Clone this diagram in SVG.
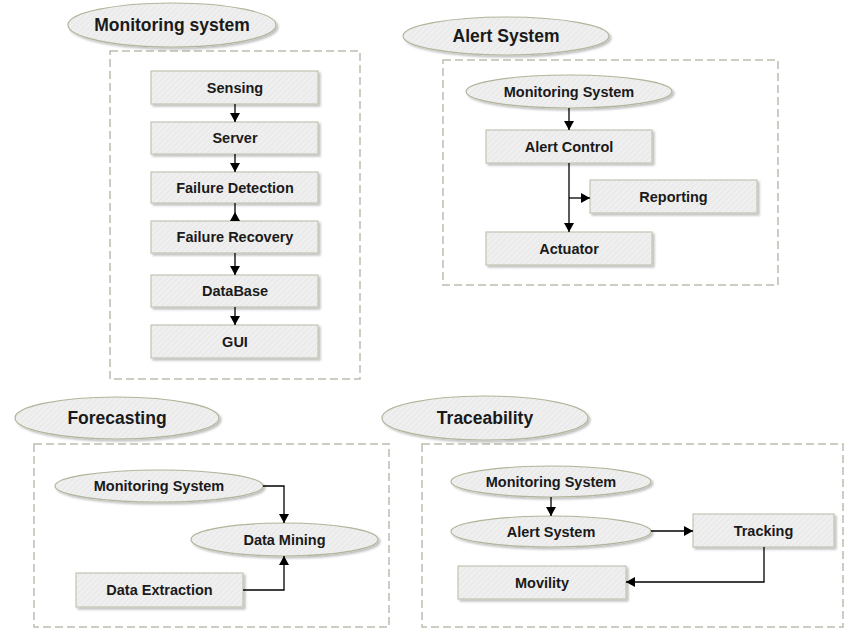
<svg xmlns="http://www.w3.org/2000/svg" width="846" height="630" viewBox="0 0 846 630">
<defs>
<pattern id="hatch" width="4" height="4" patternUnits="userSpaceOnUse" patternTransform="rotate(45)">
<rect width="4" height="4" fill="#ebebeb"/>
<line x1="0" y1="0" x2="0" y2="4" stroke="#f6f6f6" stroke-width="1.5"/>
</pattern>
<filter id="sh" x="-10%" y="-20%" width="130%" height="160%">
<feDropShadow dx="2" dy="2" stdDeviation="1.2" flood-color="#000" flood-opacity="0.25"/>
</filter>
<marker id="arr" markerUnits="userSpaceOnUse" markerWidth="12" markerHeight="12" orient="auto" overflow="visible">
<path d="M-9,-5 L0,0 L-9,5 z" fill="#000"/>
</marker>
<marker id="arrRev" markerUnits="userSpaceOnUse" markerWidth="12" markerHeight="12" orient="auto" overflow="visible">
<path d="M0,-5 L0,5 L-9,0 z" fill="#000"/>
</marker>
</defs>
<style>
.box{fill:url(#hatch);stroke:#c4c4b4;stroke-width:1.2;filter:url(#sh)}
.ell{fill:url(#hatch);stroke:#b4b49c;stroke-width:1.2;filter:url(#sh)}
.frame{fill:none;stroke:#bdbdb0;stroke-width:1.5;stroke-dasharray:8 4}
.t{font-family:"Liberation Sans",Arial,sans-serif;font-weight:bold;font-size:14.5px;fill:#1a1a1a;text-anchor:middle}
.h{font-family:"Liberation Sans",Arial,sans-serif;font-weight:bold;font-size:17.5px;fill:#1a1a1a;text-anchor:middle}
.c{fill:none;stroke:#000;stroke-width:1.3}
.ca{fill:none;stroke:#000;stroke-width:1.3;marker-end:url(#arr)}
</style>

<!-- Frames -->
<g id="frames">
<rect class="frame" x="110" y="51" width="250" height="328"/>
<rect class="frame" x="443" y="60" width="335" height="225"/>
<rect class="frame" x="34" y="444" width="355" height="183"/>
<rect class="frame" x="422" y="444" width="421" height="183"/>
</g>

<!-- Titles -->
<g id="title-monitoring"><ellipse class="ell" cx="172" cy="25" rx="104" ry="22"/><text class="h" x="172" y="31">Monitoring system</text></g>
<g id="title-alert"><ellipse class="ell" cx="506" cy="36" rx="103" ry="19"/><text class="h" x="506" y="42">Alert System</text></g>
<g id="title-forecasting"><ellipse class="ell" cx="117" cy="418" rx="102" ry="21"/><text class="h" x="117" y="424">Forecasting</text></g>
<g id="title-traceability"><ellipse class="ell" cx="485" cy="418" rx="103" ry="22"/><text class="h" x="485" y="424">Traceability</text></g>

<!-- Monitoring system nodes -->
<g id="sensing"><rect class="box" x="151" y="71" width="167" height="33"/><text class="t" x="235" y="92.5">Sensing</text></g>
<g id="server"><rect class="box" x="151" y="122" width="167" height="32"/><text class="t" x="235" y="143">Server</text></g>
<g id="failure-detection"><rect class="box" x="151" y="172" width="167" height="31"/><text class="t" x="235" y="192.5">Failure Detection</text></g>
<g id="failure-recovery"><rect class="box" x="151" y="221" width="167" height="32"/><text class="t" x="235" y="242">Failure Recovery</text></g>
<g id="database"><rect class="box" x="151" y="275" width="167" height="32"/><text class="t" x="235" y="296">DataBase</text></g>
<g id="gui"><rect class="box" x="151" y="325" width="167" height="33"/><text class="t" x="235" y="346.5">GUI</text></g>

<!-- Alert system nodes -->
<g id="as-monitoring"><ellipse class="ell" cx="569" cy="91.5" rx="103" ry="16.5"/><text class="t" x="569" y="96.5">Monitoring System</text></g>
<g id="alert-control"><rect class="box" x="486" y="130" width="166" height="33"/><text class="t" x="569" y="151.5">Alert Control</text></g>
<g id="reporting"><rect class="box" x="590" y="180" width="167" height="33"/><text class="t" x="673.5" y="201.5">Reporting</text></g>
<g id="actuator"><rect class="box" x="486" y="232" width="166" height="33"/><text class="t" x="569" y="253.5">Actuator</text></g>

<!-- Forecasting nodes -->
<g id="fc-monitoring"><ellipse class="ell" cx="159" cy="486" rx="104" ry="16"/><text class="t" x="159" y="491">Monitoring System</text></g>
<g id="data-mining"><ellipse class="ell" cx="284.5" cy="539.5" rx="93.5" ry="16.5"/><text class="t" x="284.5" y="544.5">Data Mining</text></g>
<g id="data-extraction"><rect class="box" x="76" y="573" width="167" height="34"/><text class="t" x="159.5" y="595">Data Extraction</text></g>

<!-- Traceability nodes -->
<g id="tr-monitoring"><ellipse class="ell" cx="551" cy="481.5" rx="100" ry="15.5"/><text class="t" x="551" y="486.5">Monitoring System</text></g>
<g id="tr-alert"><ellipse class="ell" cx="551" cy="531.5" rx="100" ry="15.5"/><text class="t" x="551" y="536.5">Alert System</text></g>
<g id="tracking"><rect class="box" x="693" y="514" width="141" height="33"/><text class="t" x="763.5" y="535.5">Tracking</text></g>
<g id="movility"><rect class="box" x="458" y="566" width="168" height="33"/><text class="t" x="542" y="587.5">Movility</text></g>

<!-- Connectors -->
<g id="connectors">
<path class="ca" d="M235 104 V122"/>
<path class="ca" d="M235 154 V172"/>
<path class="c" d="M235 203 V221" marker-end="url(#arrRev)"/>
<path class="ca" d="M235 253 V275"/>
<path class="ca" d="M235 307 V325"/>

<path class="ca" d="M569 108 V130"/>
<path class="ca" d="M569 163 V232"/>
<path class="ca" d="M569 198 H590"/>

<path class="ca" d="M263 486 H284 V523"/>
<path class="ca" d="M243 590 H284 V556"/>

<path class="ca" d="M551 497 V516"/>
<path class="ca" d="M651 531 H693"/>
<path class="ca" d="M764 547 V582 H626"/>
</g>
</svg>
